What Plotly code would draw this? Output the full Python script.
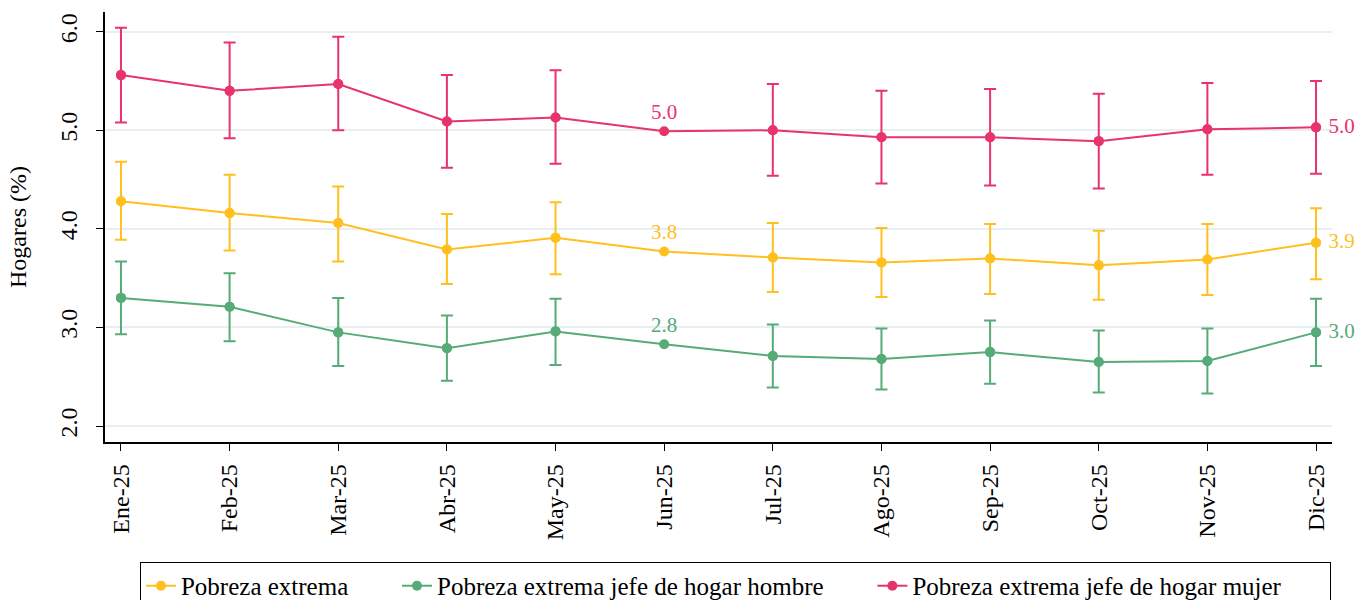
import plotly.graph_objects as go

meses = ["Ene-25", "Feb-25", "Mar-25", "Abr-25", "May-25", "Jun-25",
         "Jul-25", "Ago-25", "Sep-25", "Oct-25", "Nov-25", "Dic-25"]

extrema = [4.28, 4.16, 4.06, 3.79, 3.91, 3.77, 3.71, 3.66, 3.70, 3.63, 3.69, 3.86]
extrema_sup = [4.68, 4.55, 4.43, 4.15, 4.27, None, 4.06, 4.01, 4.05, 3.98, 4.05, 4.21]
extrema_inf = [3.89, 3.78, 3.67, 3.44, 3.54, None, 3.36, 3.31, 3.34, 3.28, 3.33, 3.49]

hombre = [3.30, 3.21, 2.95, 2.79, 2.96, 2.83, 2.71, 2.68, 2.75, 2.65, 2.66, 2.95]
hombre_sup = [3.67, 3.55, 3.30, 3.12, 3.29, None, 3.03, 2.99, 3.07, 2.97, 2.99, 3.29]
hombre_inf = [2.93, 2.86, 2.61, 2.46, 2.62, None, 2.39, 2.37, 2.43, 2.34, 2.33, 2.61]

mujer = [5.56, 5.40, 5.47, 5.09, 5.13, 4.99, 5.00, 4.93, 4.93, 4.89, 5.01, 5.03]
mujer_sup = [6.04, 5.89, 5.95, 5.56, 5.61, None, 5.47, 5.40, 5.42, 5.37, 5.48, 5.50]
mujer_inf = [5.08, 4.92, 5.00, 4.62, 4.66, None, 4.54, 4.46, 4.44, 4.41, 4.55, 4.56]

# points that carry a value label
etiquetas = {"Jun-25": "top center", "Dic-25": "middle right"}

series = [
    ("Pobreza extrema", extrema, extrema_sup, extrema_inf, "#ffc01f"),
    ("Pobreza extrema jefe de hogar hombre", hombre, hombre_sup, hombre_inf, "#56ab77"),
    ("Pobreza extrema jefe de hogar mujer", mujer, mujer_sup, mujer_inf, "#e8336b"),
]

FONT = "Liberation Serif, Times New Roman, serif"
PAD = "\u00a0"

fig = go.Figure()

for nombre, valores, sup, inf, color in series:
    textos = []
    for m, v in zip(meses, valores):
        if m == "Dic-25":
            textos.append(PAD + f"{v:.1f}")
        elif m in etiquetas:
            textos.append(f"{v:.1f}")
        else:
            textos.append("")
    posiciones = [etiquetas.get(m, "top center") for m in meses]
    # trailing padding widens the gap between legend entries
    fig.add_trace(
        go.Scatter(
            x=meses,
            y=valores,
            name=nombre + PAD * 7,
            mode="lines+markers+text",
            line={"color": color, "width": 2},
            marker={"color": color, "size": 10},
            text=textos,
            textposition=posiciones,
            textfont={"color": color, "size": 21, "family": FONT},
            cliponaxis=False,
        )
    )
    # error bars only where the interval exists
    idx = [i for i, s in enumerate(sup) if s is not None]
    fig.add_trace(
        go.Scatter(
            x=[meses[i] for i in idx],
            y=[valores[i] for i in idx],
            mode="markers",
            marker={"color": color, "size": 10},
            error_y={
                "type": "data",
                "symmetric": False,
                "array": [sup[i] - valores[i] for i in idx],
                "arrayminus": [valores[i] - inf[i] for i in idx],
                "color": color,
                "thickness": 2,
                "width": 6,
            },
            showlegend=False,
            hoverinfo="skip",
        )
    )

fig.update_layout(
    template="none",
    width=1359,
    height=600,
    margin={"l": 105, "r": 27, "t": 12, "b": 158, "autoexpand": False},
    plot_bgcolor="white",
    paper_bgcolor="white",
    font={"family": FONT, "size": 24, "color": "black"},
    legend={
        "orientation": "h",
        "x": 0.0285,
        "xanchor": "left",
        "y": -0.279,
        "yanchor": "top",
        "bordercolor": "black",
        "borderwidth": 1,
        "font": {"size": 25, "family": FONT},
        "traceorder": "normal",
    },
)

fig.update_xaxes(
    type="category",
    categoryorder="array",
    categoryarray=meses,
    range=[-0.147, 11.147],
    automargin=False,
    showline=True,
    linecolor="black",
    linewidth=1.5,
    ticks="outside",
    ticklen=7,
    tickcolor="black",
    tickangle=-90,
    ticklabelstandoff=4,
    tickfont={"size": 24, "family": FONT},
    showgrid=False,
    zeroline=False,
)

fig.update_yaxes(
    range=[1.838, 6.2],
    tickvals=[2, 3, 4, 5, 6],
    tickformat=".1f",
    tickangle=-90,
    ticklabelstandoff=10,
    tickfont={"size": 24, "family": FONT},
    automargin=False,
    showline=True,
    linecolor="black",
    linewidth=1.5,
    ticks="outside",
    ticklen=7,
    tickcolor="black",
    showgrid=True,
    gridcolor="#e8eff3",
    gridwidth=2,
    zeroline=False,
    title={"text": "Hogares (%)", "font": {"size": 24, "family": FONT}, "standoff": 22},
)

# drop the default page margin so the figure fills the window exactly
fig.write_html(
    "out.html",
    config={"displayModeBar": False},
    post_script="document.body.style.margin='0';document.body.style.overflow='hidden';",
)
